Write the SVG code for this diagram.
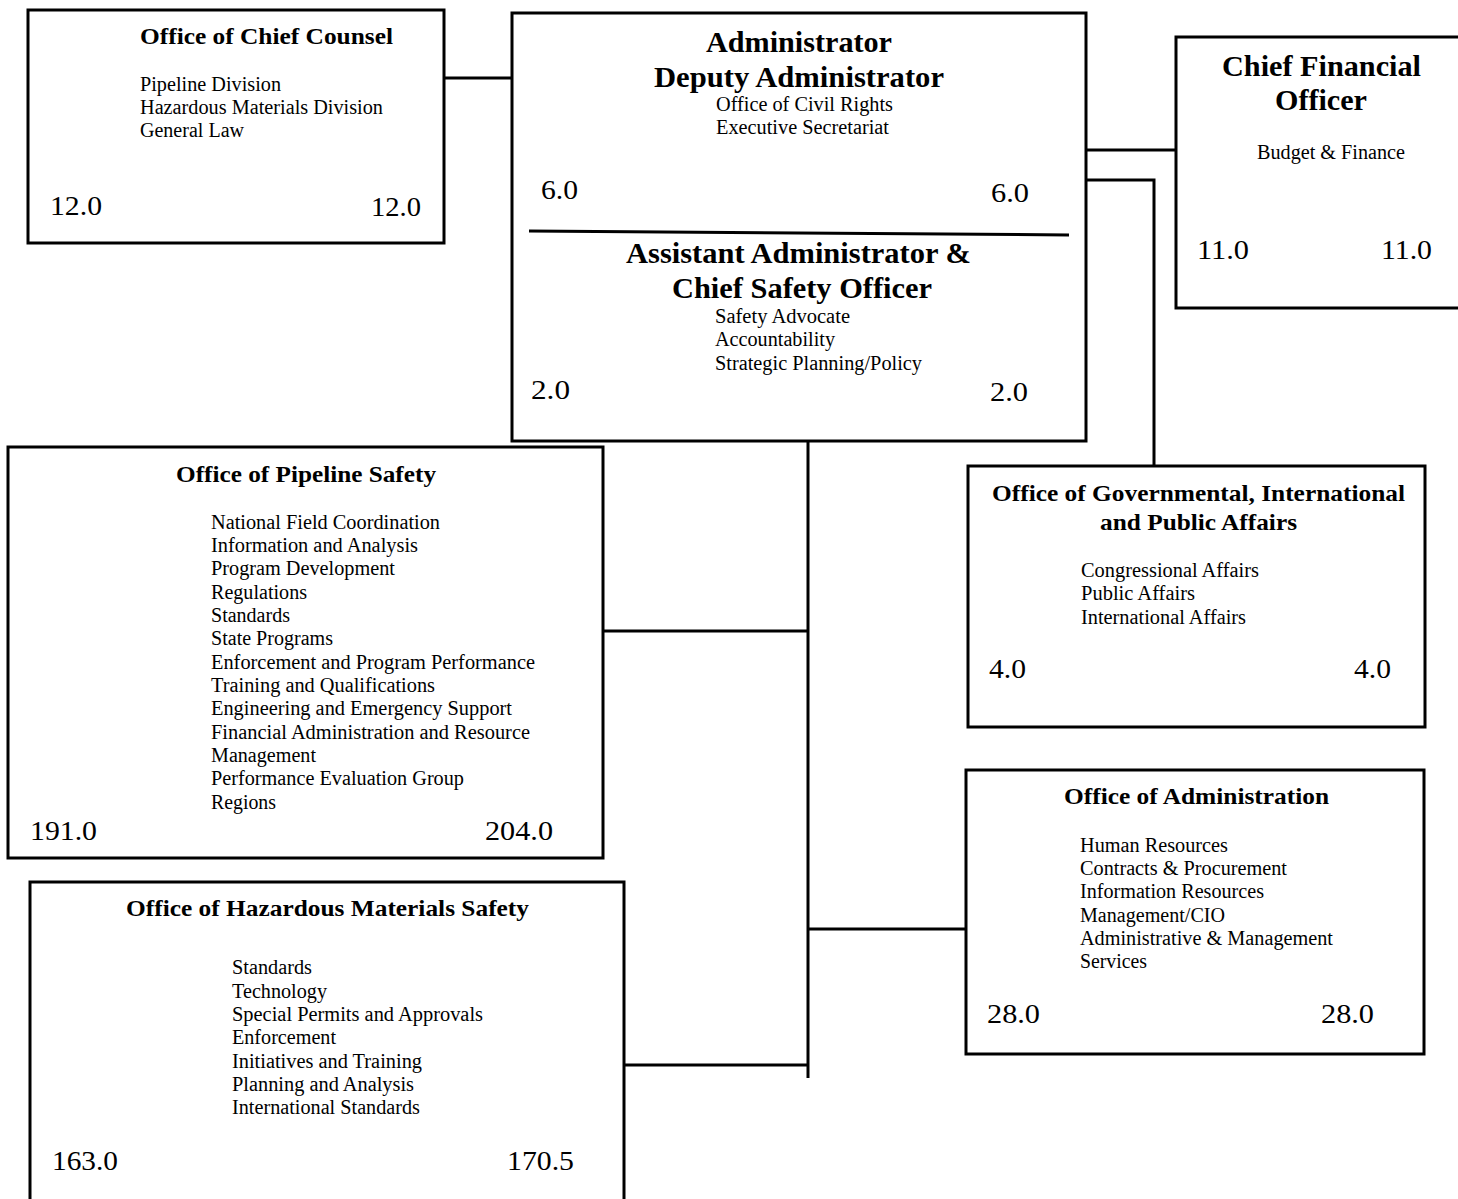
<svg xmlns="http://www.w3.org/2000/svg" width="1458" height="1199" viewBox="0 0 1458 1199">
<style>
.box{fill:#fff;stroke:#000;stroke-width:3}
.conn{stroke:#000;stroke-width:3;fill:none}
text{font-family:"Liberation Serif","Times New Roman",serif;fill:#000}
.t{font-weight:bold;font-size:24px}
.tl{font-weight:bold;font-size:30px}
.i{font-size:20.5px}
.n{font-size:27px}
</style>
<rect width="1458" height="1199" fill="#fff"/>
<g id="connectors">
<line class="conn" x1="444" y1="78" x2="512" y2="78"/>
<line class="conn" x1="1086" y1="150" x2="1176" y2="150"/>
<polyline class="conn" points="1086,180 1154,180 1154,466"/>
<line class="conn" x1="808" y1="441" x2="808" y2="1078"/>
<line class="conn" x1="603" y1="631" x2="808" y2="631"/>
<line class="conn" x1="808" y1="929" x2="966" y2="929"/>
<line class="conn" x1="624" y1="1065" x2="808" y2="1065"/>
</g>
<g id="chief-counsel">
<rect class="box" x="28" y="10" width="416" height="233"/>
<text class="t" x="140" y="44" textLength="253" lengthAdjust="spacingAndGlyphs">Office of Chief Counsel</text>
<text class="i" x="140" y="91" textLength="141" lengthAdjust="spacingAndGlyphs">Pipeline Division</text>
<text class="i" x="140" y="114" textLength="243" lengthAdjust="spacingAndGlyphs">Hazardous Materials Division</text>
<text class="i" x="140" y="137" textLength="104" lengthAdjust="spacingAndGlyphs">General Law</text>
<text class="n" x="50" y="215" textLength="52" lengthAdjust="spacingAndGlyphs">12.0</text>
<text class="n" x="371" y="216" textLength="50" lengthAdjust="spacingAndGlyphs">12.0</text>
</g>
<g id="administrator">
<rect class="box" x="512" y="13" width="574" height="428"/>
<text class="tl" x="706" y="52" textLength="186" lengthAdjust="spacingAndGlyphs">Administrator</text>
<text class="tl" x="654" y="87" textLength="290" lengthAdjust="spacingAndGlyphs">Deputy Administrator</text>
<text class="i" x="716" y="111" textLength="177" lengthAdjust="spacingAndGlyphs">Office of Civil Rights</text>
<text class="i" x="716" y="134" textLength="173" lengthAdjust="spacingAndGlyphs">Executive Secretariat</text>
<text class="n" x="541" y="199" textLength="37" lengthAdjust="spacingAndGlyphs">6.0</text>
<text class="n" x="991" y="202" textLength="38" lengthAdjust="spacingAndGlyphs">6.0</text>
<line class="conn" x1="529" y1="231" x2="1069" y2="235"/>
<text class="tl" x="626" y="263" textLength="345" lengthAdjust="spacingAndGlyphs">Assistant Administrator &amp;</text>
<text class="tl" x="672" y="298" textLength="260" lengthAdjust="spacingAndGlyphs">Chief Safety Officer</text>
<text class="i" x="715" y="323" textLength="135" lengthAdjust="spacingAndGlyphs">Safety Advocate</text>
<text class="i" x="715" y="346" textLength="120" lengthAdjust="spacingAndGlyphs">Accountability</text>
<text class="i" x="715" y="370" textLength="207" lengthAdjust="spacingAndGlyphs">Strategic Planning/Policy</text>
<text class="n" x="531" y="399" textLength="39" lengthAdjust="spacingAndGlyphs">2.0</text>
<text class="n" x="990" y="401" textLength="38" lengthAdjust="spacingAndGlyphs">2.0</text>
</g>
<g id="cfo">
<rect class="box" x="1176" y="37" width="290" height="271"/>
<text class="tl" x="1222" y="76" textLength="199" lengthAdjust="spacingAndGlyphs">Chief Financial</text>
<text class="tl" x="1275" y="110" textLength="92" lengthAdjust="spacingAndGlyphs">Officer</text>
<text class="i" x="1257" y="159" textLength="148" lengthAdjust="spacingAndGlyphs">Budget &amp; Finance</text>
<text class="n" x="1197" y="259" textLength="52" lengthAdjust="spacingAndGlyphs">11.0</text>
<text class="n" x="1381" y="259" textLength="51" lengthAdjust="spacingAndGlyphs">11.0</text>
</g>
<g id="governmental-affairs">
<rect class="box" x="968" y="466" width="457" height="261"/>
<text class="t" x="992" y="501" textLength="413" lengthAdjust="spacingAndGlyphs">Office of Governmental, International</text>
<text class="t" x="1100" y="530" textLength="197" lengthAdjust="spacingAndGlyphs">and Public Affairs</text>
<text class="i" x="1081" y="577" textLength="178" lengthAdjust="spacingAndGlyphs">Congressional Affairs</text>
<text class="i" x="1081" y="600" textLength="114" lengthAdjust="spacingAndGlyphs">Public Affairs</text>
<text class="i" x="1081" y="624" textLength="165" lengthAdjust="spacingAndGlyphs">International Affairs</text>
<text class="n" x="989" y="678" textLength="37" lengthAdjust="spacingAndGlyphs">4.0</text>
<text class="n" x="1354" y="678" textLength="37" lengthAdjust="spacingAndGlyphs">4.0</text>
</g>
<g id="administration">
<rect class="box" x="966" y="770" width="458" height="284"/>
<text class="t" x="1064" y="804" textLength="265" lengthAdjust="spacingAndGlyphs">Office of Administration</text>
<text class="i" x="1080" y="852" textLength="148" lengthAdjust="spacingAndGlyphs">Human Resources</text>
<text class="i" x="1080" y="875" textLength="207" lengthAdjust="spacingAndGlyphs">Contracts &amp; Procurement</text>
<text class="i" x="1080" y="898" textLength="184" lengthAdjust="spacingAndGlyphs">Information Resources</text>
<text class="i" x="1080" y="922" textLength="145" lengthAdjust="spacingAndGlyphs">Management/CIO</text>
<text class="i" x="1080" y="945" textLength="253" lengthAdjust="spacingAndGlyphs">Administrative &amp; Management</text>
<text class="i" x="1080" y="968" textLength="67" lengthAdjust="spacingAndGlyphs">Services</text>
<text class="n" x="987" y="1023" textLength="53" lengthAdjust="spacingAndGlyphs">28.0</text>
<text class="n" x="1321" y="1023" textLength="53" lengthAdjust="spacingAndGlyphs">28.0</text>
</g>
<g id="pipeline-safety">
<rect class="box" x="8" y="447" width="595" height="411"/>
<text class="t" x="176" y="482" textLength="260" lengthAdjust="spacingAndGlyphs">Office of Pipeline Safety</text>
<text class="i" x="211" y="529" textLength="229" lengthAdjust="spacingAndGlyphs">National Field Coordination</text>
<text class="i" x="211" y="552" textLength="207" lengthAdjust="spacingAndGlyphs">Information and Analysis</text>
<text class="i" x="211" y="575" textLength="184" lengthAdjust="spacingAndGlyphs">Program Development</text>
<text class="i" x="211" y="599" textLength="96" lengthAdjust="spacingAndGlyphs">Regulations</text>
<text class="i" x="211" y="622" textLength="79" lengthAdjust="spacingAndGlyphs">Standards</text>
<text class="i" x="211" y="645" textLength="122" lengthAdjust="spacingAndGlyphs">State Programs</text>
<text class="i" x="211" y="669" textLength="324" lengthAdjust="spacingAndGlyphs">Enforcement and Program Performance</text>
<text class="i" x="211" y="692" textLength="224" lengthAdjust="spacingAndGlyphs">Training and Qualifications</text>
<text class="i" x="211" y="715" textLength="301" lengthAdjust="spacingAndGlyphs">Engineering and Emergency Support</text>
<text class="i" x="211" y="739" textLength="319" lengthAdjust="spacingAndGlyphs">Financial Administration and Resource</text>
<text class="i" x="211" y="762" textLength="105" lengthAdjust="spacingAndGlyphs">Management</text>
<text class="i" x="211" y="785" textLength="253" lengthAdjust="spacingAndGlyphs">Performance Evaluation Group</text>
<text class="i" x="211" y="809" textLength="65" lengthAdjust="spacingAndGlyphs">Regions</text>
<text class="n" x="30" y="840" textLength="67" lengthAdjust="spacingAndGlyphs">191.0</text>
<text class="n" x="485" y="840" textLength="68" lengthAdjust="spacingAndGlyphs">204.0</text>
</g>
<g id="hazmat-safety">
<rect class="box" x="30" y="882" width="594" height="330"/>
<text class="t" x="126" y="916" textLength="403" lengthAdjust="spacingAndGlyphs">Office of Hazardous Materials Safety</text>
<text class="i" x="232" y="974" textLength="80" lengthAdjust="spacingAndGlyphs">Standards</text>
<text class="i" x="232" y="998" textLength="95" lengthAdjust="spacingAndGlyphs">Technology</text>
<text class="i" x="232" y="1021" textLength="251" lengthAdjust="spacingAndGlyphs">Special Permits and Approvals</text>
<text class="i" x="232" y="1044" textLength="104" lengthAdjust="spacingAndGlyphs">Enforcement</text>
<text class="i" x="232" y="1068" textLength="190" lengthAdjust="spacingAndGlyphs">Initiatives and Training</text>
<text class="i" x="232" y="1091" textLength="182" lengthAdjust="spacingAndGlyphs">Planning and Analysis</text>
<text class="i" x="232" y="1114" textLength="188" lengthAdjust="spacingAndGlyphs">International Standards</text>
<text class="n" x="52" y="1170" textLength="66" lengthAdjust="spacingAndGlyphs">163.0</text>
<text class="n" x="507" y="1170" textLength="67" lengthAdjust="spacingAndGlyphs">170.5</text>
</g>
</svg>
